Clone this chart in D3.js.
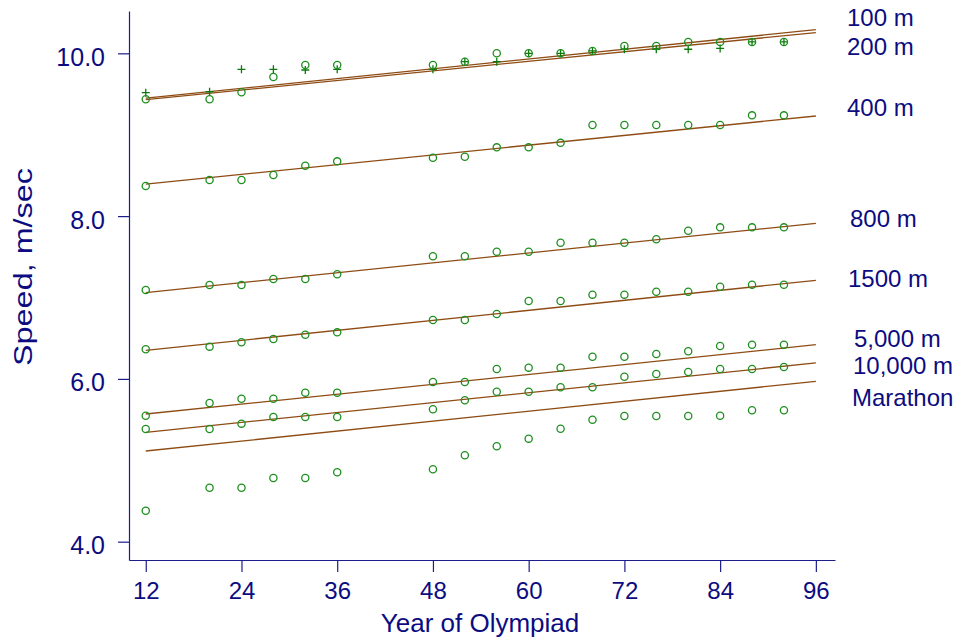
<!DOCTYPE html>
<html>
<head>
<meta charset="utf-8">
<style>
    body { margin: 0; background: #fff; }
    text { font-family: "Liberation Sans", Arial, sans-serif; fill: #0c0c80; }
</style>
</head>
<body>
<svg width="960" height="644"></svg>
<script src="https://d3js.org/d3.v7.min.js"></script>
<script>

// Olympiad years (19xx)
let years = [12, 20, 24, 28, 32, 36, 48, 52, 56, 60, 64, 68, 72, 76, 80, 84, 88, 92]

// winning speeds, m/sec
let m100 = [9.516, 9.528, 9.803, 9.803, 9.795, 9.803, 9.803, 9.897, 9.897, 10.0, 10.0, 10.03, 10.05, 10.05, 10.05, 10.06, 10.14, 10.14]
let m200 = [9.435, 9.435, 9.521, 9.709, 9.856, 9.856, 9.856, 9.897, 10.0, 10.0, 10.0, 10.03, 10.09, 10.09, 10.14, 10.14, 10.14, 10.14]
let m400 = [8.37, 8.444, 8.444, 8.505, 8.62, 8.673, 8.717, 8.73, 8.845, 8.845, 8.90, 9.119, 9.119, 9.119, 9.119, 9.119, 9.238, 9.238]
let m800 = [7.092, 7.153, 7.153, 7.227, 7.227, 7.285, 7.506, 7.506, 7.563, 7.563, 7.673, 7.673, 7.673, 7.715, 7.82, 7.862, 7.862, 7.862]
let m1500 = [6.364, 6.396, 6.45, 6.49, 6.543, 6.572, 6.724, 6.724, 6.797, 6.957, 6.957, 7.035, 7.035, 7.071, 7.071, 7.133, 7.157, 7.157]
let m5000 = [5.548, 5.704, 5.757, 5.757, 5.831, 5.831, 5.962, 5.962, 6.122, 6.138, 6.138, 6.273, 6.273, 6.306, 6.339, 6.404, 6.42, 6.42]
let m10000 = [5.384, 5.384, 5.45, 5.532, 5.532, 5.532, 5.627, 5.737, 5.843, 5.843, 5.897, 5.897, 6.027, 6.06, 6.085, 6.122, 6.122, 6.146]
let marathon = [4.381, 4.663, 4.663, 4.783, 4.783, 4.853, 4.89, 5.062, 5.172, 5.266, 5.388, 5.499, 5.544, 5.544, 5.544, 5.548, 5.614, 5.614]

// fitted trend lines: value at first and last year
let fitYears = [12, 96]
let fitStart = [9.45, 9.43, 8.394, 7.06, 6.351, 5.569, 5.344, 5.114]
let fitEnd = [10.29, 10.255, 9.23, 7.912, 7.211, 6.42, 6.196, 5.97]

let events = ["100 m", "200 m", "400 m", "800 m", "1500 m", "5,000 m", "10,000 m", "Marathon"]
let markers = ["plus", "circle", "circle", "circle", "circle", "circle", "circle", "circle"]

let xTicks = [12, 24, 36, 48, 60, 72, 84, 96]
let yTicks = [4, 6, 8, 10]

let series = [m100, m200, m400, m800, m1500, m5000, m10000, marathon]

let svg = d3.select("svg")

let x = d3.scaleLinear().domain([9.9, 98.4]).range([129, 835])
let y = d3.scaleLinear().domain([3.775, 10.52]).range([560, 11])

let axisColor = "#1c1c8a"

// y axis
let yAxis = svg.append("g")
    .attr("transform", "translate(129,0)")
    .call(d3.axisLeft(y).tickValues(yTicks).tickFormat(d3.format(".1f"))
        .tickSize(11).tickSizeOuter(0).tickPadding(13))
yAxis.selectAll("text").style("font-size", "25px").attr("dy", "0.48em")

// x axis
let xAxis = svg.append("g")
    .attr("transform", "translate(0,560)")
    .call(d3.axisBottom(x).tickValues(xTicks).tickFormat(d3.format("d"))
        .tickSize(12).tickSizeOuter(0).tickPadding(10))
xAxis.selectAll("text").style("font-size", "24px")

svg.selectAll(".domain, .tick line").attr("stroke", axisColor).attr("stroke-width", 1.2)
svg.selectAll(".tick text").attr("fill", "#0c0c80").attr("font-family", "Liberation Sans, Arial, sans-serif")

// axis titles
svg.append("text")
    .attr("x", 480).attr("y", 632)
    .attr("text-anchor", "middle")
    .style("font-size", "26px")
    .text("Year of Olympiad")

svg.append("text")
    .attr("transform", "translate(32,267) rotate(-90)")
    .attr("text-anchor", "middle")
    .attr("textLength", 198)
    .attr("lengthAdjust", "spacingAndGlyphs")
    .style("font-size", "25px")
    .text("Speed, m/sec")

// trend lines
let line = d3.line().x(d => x(d[0])).y(d => y(d[1]))
series.forEach((s, i) => {
    svg.append("path")
        .datum([[fitYears[0], fitStart[i]], [fitYears[1], fitEnd[i]]])
        .attr("d", line)
        .attr("fill", "none")
        .attr("stroke", "#8e4c14")
        .attr("stroke-width", 1.3)
})

// points
series.forEach((s, i) => {
    let pts = years.map((yr, j) => [yr, s[j]])
    let g = svg.append("g")
    if (markers[i] === "circle") {
        g.selectAll("circle").data(pts).enter().append("circle")
            .attr("cx", d => x(d[0]))
            .attr("cy", d => y(d[1]))
            .attr("r", 3.6)
            .attr("fill", "none")
            .attr("stroke", "#1f8f1f")
            .attr("stroke-width", 1.3)
    } else {
        g.selectAll("path").data(pts).enter().append("path")
            .attr("d", d => {
                let cx = x(d[0]), cy = y(d[1])
                return "M" + (cx - 4) + "," + cy + "H" + (cx + 4) + "M" + cx + "," + (cy - 4) + "V" + (cy + 4)
            })
            .attr("stroke", "#0b7a0b")
            .attr("stroke-width", 1.3)
    }
})

// event labels at the right
let labelAt = [10.44, 10.08, 9.34, 7.97, 7.24, 6.50, 6.165, 5.775]
let labelX = [847, 847, 847, 850, 848, 854, 853, 852]
events.forEach((e, i) => {
    svg.append("text")
        .attr("x", labelX[i])
        .attr("y", y(labelAt[i]))
        .attr("dy", "0.36em")
        .style("font-size", "24px")
        .text(e)
})

</script>
</body>
</html>
